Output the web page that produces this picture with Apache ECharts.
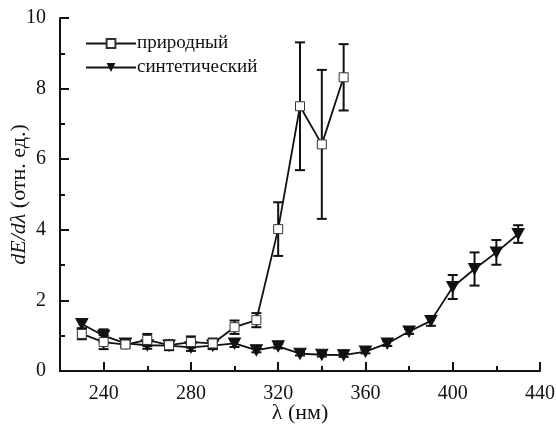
<!DOCTYPE html>
<html><head><meta charset="utf-8">
<script src="https://cdn.jsdelivr.net/npm/echarts@6/dist/echarts.min.js"></script>
<style>html,body{margin:0;padding:0;background:#fff}#c{width:556px;height:424px}</style>
</head><body><div id="c"></div>
<script>
// wavelengths (nm)
const xNat = [230,240,250,260,270,280,290,300,310,320,330,340,350];
const yNat = [1.05,0.82,0.75,0.88,0.73,0.82,0.78,1.24,1.44,4.02,7.50,6.42,8.32];
const eNat = [0.15,0.2,0.1,0.17,0.14,0.16,0.14,0.19,0.2,0.76,1.81,2.11,0.94];

const xSyn = [230,240,250,260,270,280,290,300,310,320,330,340,350,360,370,380,390,400,410,420,430];
const ySyn = [1.33,1.0,0.78,0.73,0.72,0.67,0.72,0.78,0.59,0.70,0.49,0.46,0.45,0.55,0.78,1.12,1.42,2.38,2.89,3.36,3.88];
const eSyn = [0.12,0.18,0.08,0.1,0.1,0.1,0.1,0.1,0.06,0.06,0.05,0.05,0.05,0.05,0.07,0.07,0.14,0.34,0.47,0.35,0.25];

const xMajor = [240,280,320,360,400,440];
const xMinor = [260,300,340,380,420];

const FONT = 'Liberation Serif';
const chart = echarts.init(document.getElementById('c'));

function errData(xs, ys, es){ return xs.map((x,i)=>[x, ys[i]-es[i], ys[i]+es[i]]); }
function errRender(params, api){
  const x = api.value(0);
  const lo = api.coord([x, api.value(1)]);
  const hi = api.coord([x, api.value(2)]);
  const w = 5;
  const st = {stroke:'#111', lineWidth:2};
  return {type:'group', children:[
    {type:'line', shape:{x1:lo[0],y1:lo[1],x2:hi[0],y2:hi[1]}, style:st},
    {type:'line', shape:{x1:lo[0]-w,y1:lo[1],x2:lo[0]+w,y2:lo[1]}, style:st},
    {type:'line', shape:{x1:hi[0]-w,y1:hi[1],x2:hi[0]+w,y2:hi[1]}, style:st}
  ]};
}

chart.setOption({
  animation:false,
  backgroundColor:'#fff',
  grid:{left:60,right:16,top:18,bottom:53,outerBoundsMode:'none',containLabel:false},
  legend:{
    data:['природный','синтетический'],
    orient:'vertical', left:80, top:29, itemGap:5, itemWidth:50, itemHeight:11,
    textStyle:{fontFamily:FONT,fontSize:19,color:'#111',padding:[0,0,0,-4]}
  },
  xAxis:[{
    type:'value', min:220, max:440, interval:20,
    name:'λ (нм)', nameLocation:'middle', nameGap:31, nameMoveOverlap:false,
    nameTextStyle:{fontFamily:FONT,fontSize:22,color:'#111'},
    axisLine:{lineStyle:{color:'#111',width:2}},
    axisTick:{inside:true,length:9,lineStyle:{width:2,color:'#111'},customValues:xMajor},
    axisLabel:{fontFamily:FONT,fontSize:20,color:'#111',margin:13,customValues:xMajor},
    splitLine:{show:false}
  },{
    type:'value', min:220, max:440, interval:20, position:'bottom',
    axisLine:{show:false},
    axisTick:{inside:true,length:5,lineStyle:{width:2,color:'#111'},customValues:xMinor},
    axisLabel:{show:false},
    splitLine:{show:false}
  }],
  yAxis:{
    type:'value', min:0, max:10, interval:2,
    name:'{i|dE/dλ} (отн. ед.)', nameLocation:'middle', nameGap:30, nameRotate:90, nameMoveOverlap:false,
    nameTextStyle:{fontFamily:FONT,fontSize:22,color:'#111',
      rich:{i:{fontFamily:FONT,fontSize:22,fontStyle:'italic',color:'#111'}}},
    axisLine:{show:true,lineStyle:{color:'#111',width:2}},
    axisTick:{inside:true,length:9,lineStyle:{width:2,color:'#111'}},
    minorTick:{show:true,splitNumber:2,length:5,lineStyle:{width:2,color:'#111'}},
    axisLabel:{fontFamily:FONT,fontSize:20,color:'#111',margin:14},
    splitLine:{show:false}, minorSplitLine:{show:false}
  },
  series:[
    {type:'custom', name:'errNat', renderItem:errRender, data:errData(xNat,yNat,eNat), z:1, silent:true},
    {type:'custom', name:'errSyn', renderItem:errRender, data:errData(xSyn,ySyn,eSyn), z:1, silent:true},
    {type:'line', name:'синтетический', data:xSyn.map((x,i)=>[x,ySyn[i]]),
      symbol:'triangle', symbolRotate:180, symbolSize:[12,11], z:3,
      lineStyle:{color:'#111',width:1.8}, itemStyle:{color:'#111',borderColor:'#111'}},
    {type:'line', name:'природный', data:xNat.map((x,i)=>[x,yNat[i]]),
      symbol:'rect', symbolSize:9, z:4,
      lineStyle:{color:'#111',width:1.8}, itemStyle:{color:'#fff',borderColor:'#333',borderWidth:1}}
  ]
});
</script></body></html>
